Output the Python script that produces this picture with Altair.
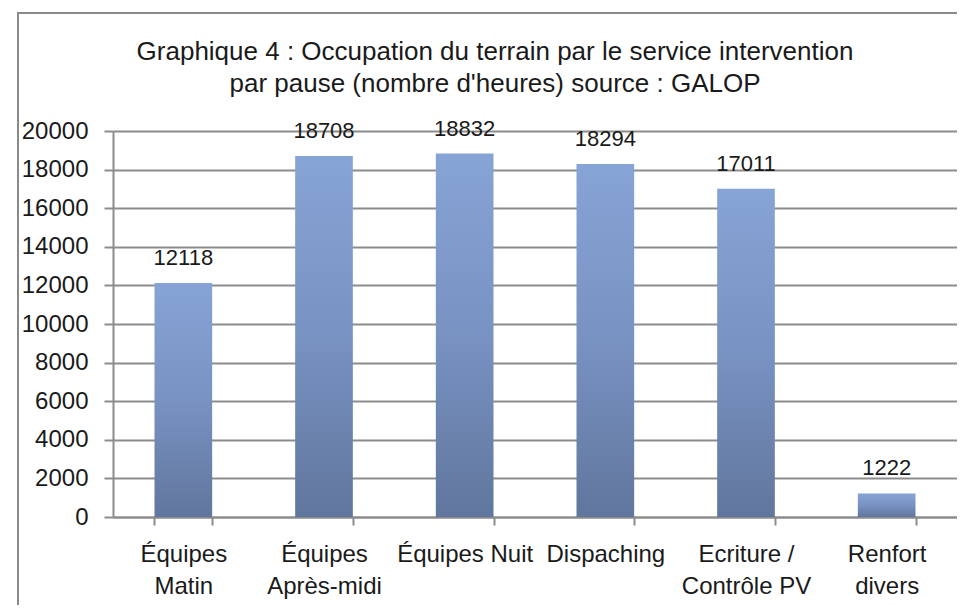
import altair as alt
import pandas as pd

categories = ["Équipes|Matin", "Équipes|Après-midi", "Équipes Nuit", "Dispaching",
              "Ecriture /|Contrôle PV", "Renfort|divers"]
values = [12118, 18708, 18832, 18294, 17011, 1222]
y_ticks = list(range(0, 20001, 2000))
title_lines = ["Graphique 4 : Occupation du terrain par le service intervention",
               "par pause (nombre d'heures) source : GALOP"]

df = pd.DataFrame({"cat": categories, "val": values})

REG = "Liberation Sans, sans-serif"
GRID = "#8c8c8c"
TXT = "#1a1a1a"

grad = alt.Gradient(
    gradient="linear",
    stops=[alt.GradientStop(color="#87A4D6", offset=0),
           alt.GradientStop(color="#7892C2", offset=0.5),
           alt.GradientStop(color="#61769D", offset=1)],
    x1=0, x2=0, y1=0, y2=1,
)

x_axis = alt.Axis(title=None, labelAngle=0, tickBand="extent",
                  labelExpr="split(datum.label, '|')",
                  labelFont=REG, labelFontSize=24, labelColor=TXT,
                  labelLineHeight=32, labelPadding=17,
                  domainColor=GRID, domainWidth=2, tickColor=GRID,
                  tickWidth=2, tickSize=8, grid=False)
y_axis = alt.Axis(title=None, values=y_ticks, format="d", labelOverlap=False,
                  tickCount=11,
                  labelFont=REG, labelFontSize=24, labelColor=TXT,
                  labelPadding=16, tickSize=9, tickColor=GRID, tickWidth=2,
                  domainColor=GRID, domainWidth=2,
                  grid=True, gridColor=GRID, gridWidth=2)
x_scale = alt.Scale(paddingInner=0.59, paddingOuter=0.295)
y_scale = alt.Scale(domain=[0, 20000], nice=False)

x_enc = alt.X("cat:N", sort=categories, scale=x_scale, axis=x_axis)
y_enc = alt.Y("val:Q", scale=y_scale, axis=y_axis)

base = alt.Chart(df)
bars = base.mark_bar(color=grad).encode(x=x_enc, y=y_enc)
labels = base.mark_text(font=REG, fontSize=22, color=TXT, baseline="alphabetic",
                        dy=-18).encode(x=x_enc, y=y_enc,
                                        text=alt.Text("val:Q", format="d"))

frame = alt.Chart(pd.DataFrame({"a": [0]})).mark_rect(
    fillOpacity=0, stroke="#8a8a8a", strokeWidth=2
).encode(x=alt.value(-95), x2=alt.value(1200), y=alt.value(-118), y2=alt.value(900))

chart = alt.layer(bars, labels, frame).properties(
    width=844, height=386,
    autosize=alt.AutoSizeParams(type="none"),
    padding={"left": 105, "top": 123, "right": 0, "bottom": 88},
    title=alt.TitleParams(text=title_lines, anchor="middle", frame="group", dx=-40,
                          font=REG, fontSize=26, fontWeight="normal", color=TXT,
                          lineHeight=32, baseline="bottom", offset=-111),
).configure_view(stroke=None)

chart.save("out.html", embed_options={"renderer": "svg", "actions": False})
